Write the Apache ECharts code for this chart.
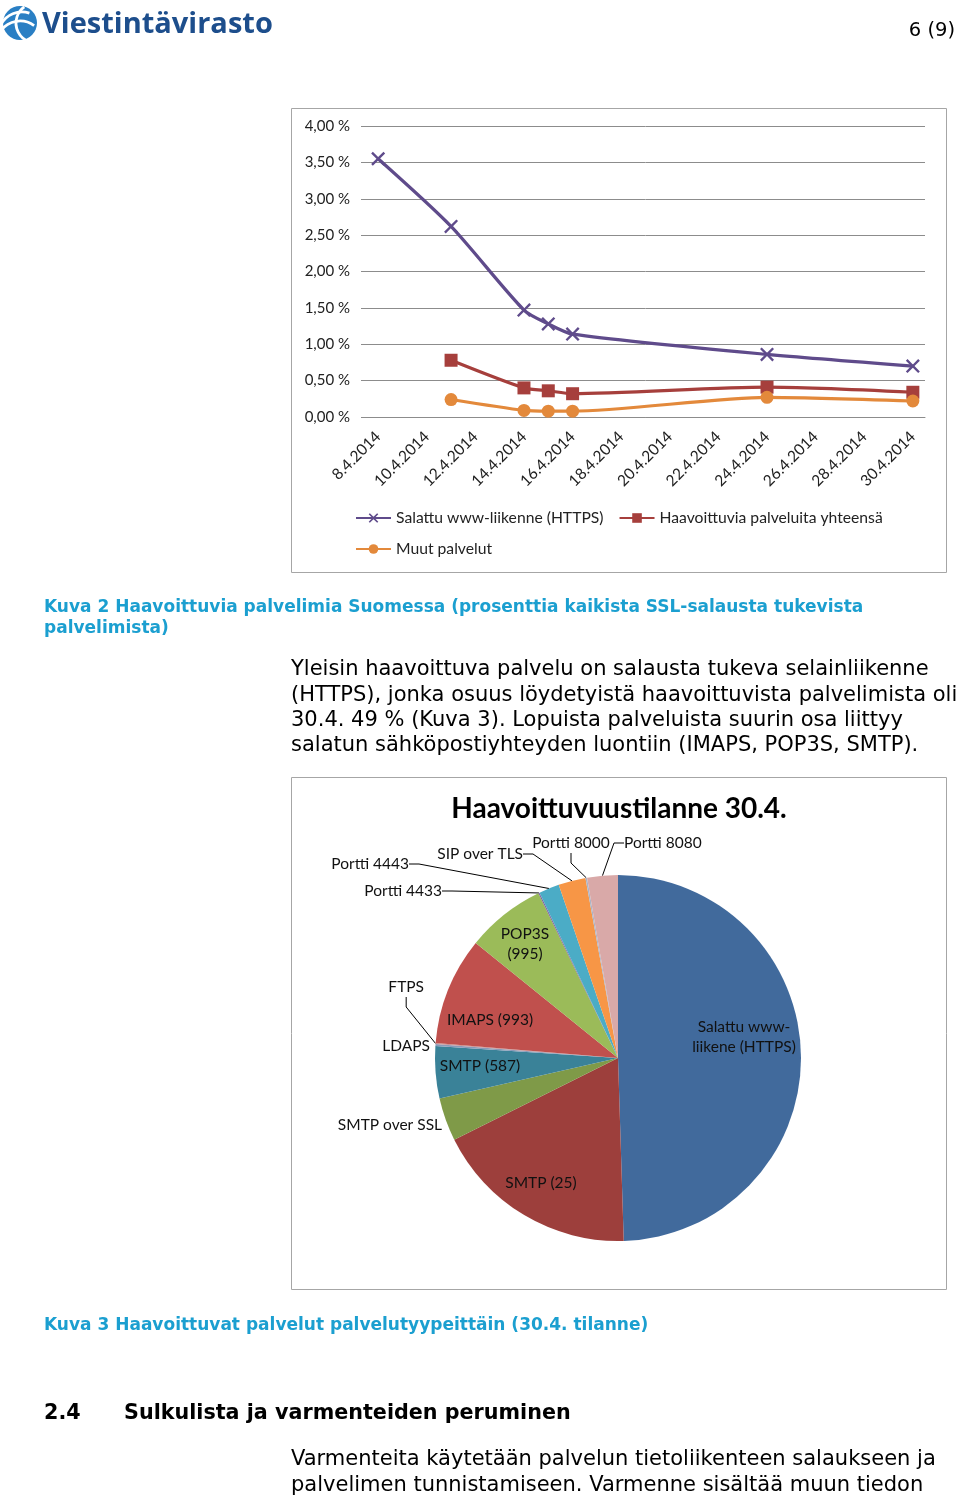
<!DOCTYPE html>
<html><head><meta charset="utf-8">
<script src="https://cdn.jsdelivr.net/npm/echarts@6/dist/echarts.min.js"></script>
<style>html,body{margin:0;padding:0;background:#fff}#c{width:960px;height:1498px}</style>
</head><body><div id="c"></div>
<script>
// ---- line chart data ----
const axisDays = ['8.4.2014','9.4.2014','10.4.2014','11.4.2014','12.4.2014','13.4.2014','14.4.2014','15.4.2014','16.4.2014','17.4.2014','18.4.2014','19.4.2014','20.4.2014','21.4.2014','22.4.2014','23.4.2014','24.4.2014','25.4.2014','26.4.2014','27.4.2014','28.4.2014','29.4.2014','30.4.2014'];
const measureDates = ['8.4.2014','11.4.2014','14.4.2014','15.4.2014','16.4.2014','24.4.2014','30.4.2014'];
const httpsPct = [3.55, 2.62, 1.47, 1.28, 1.14, 0.86, 0.70];
const totalPct = [null, 0.78, 0.40, 0.36, 0.32, 0.41, 0.34];
const otherPct = [null, 0.24, 0.09, 0.08, 0.08, 0.27, 0.22];
const seriesNames = ['Salattu www-liikenne (HTTPS)', 'Haavoittuvia palveluita yhteensä', 'Muut palvelut'];
const yTicks = [0, 0.5, 1, 1.5, 2, 2.5, 3, 3.5, 4];

// ---- pie data ----
const pieNames = ['Salattu www-liikene (HTTPS)', 'SMTP (25)', 'SMTP over SSL', 'SMTP (587)', 'LDAPS', 'FTPS', 'IMAPS (993)', 'POP3S (995)', 'Portti 4433', 'Portti 4443', 'SIP over TLS', 'Portti 8000', 'Portti 8080'];
const pieShares = [49.4, 18.1, 3.8, 4.6, 0.17, 0.08, 9.5, 7.0, 0.11, 1.8, 2.4, 0.14, 2.7];
const pieLabels = ['Salattu www-\nliikene (HTTPS)', 'SMTP (25)', 'SMTP over SSL', 'SMTP (587)', 'LDAPS', 'FTPS', 'IMAPS (993)', 'POP3S\n(995)', 'Portti 4433', 'Portti 4443', 'SIP over TLS', 'Portti 8000', 'Portti 8080'];

// ---- styles ----
const pieColors = ['#416a9c','#9d3f3c','#7f9a48','#3a8298','#8a9ab8','#c89090','#c0504d','#9bbb59','#8064a2','#4bacc6','#f79646','#aab4c8','#d9a9a8'];
const insideIdx = [0, 1, 3, 6, 7];
const labelPlace = {
  0: {x: 744, y: 1037, align: 'center'},
  1: {x: 541, y: 1183, align: 'center'},
  2: {x: 442, y: 1125, align: 'right'},
  3: {x: 480, y: 1066, align: 'center'},
  4: {x: 430, y: 1046, align: 'right'},
  5: {x: 424, y: 987, align: 'right'},
  6: {x: 490, y: 1020, align: 'center'},
  7: {x: 525, y: 944, align: 'center'},
  8: {x: 442, y: 891, align: 'right'},
  9: {x: 409, y: 864, align: 'right'},
  10: {x: 523, y: 854, align: 'right'},
  11: {x: 571, y: 843, align: 'center'},
  12: {x: 624, y: 843, align: 'left'}
};
const noLine = [2, 4];

const chartFont = 'Lato';
const docFont = '"DejaVu Sans"';
const capColor = '#1b9fd0';

function pair(dates, vals) {
  const out = [];
  dates.forEach((d, i) => { if (vals[i] != null) out.push([d, vals[i]]); });
  return out;
}

const xPath = 'path://M0,1.2L1.2,0L5,3.8L8.8,0L10,1.2L6.2,5L10,8.8L8.8,10L5,6.2L1.2,10L0,8.8L3.8,5Z';

const chart = echarts.init(document.getElementById('c'), null, {renderer: 'canvas', width: 960, height: 1498});

const option = {
  animation: false,
  backgroundColor: '#fff',
  textStyle: {fontFamily: chartFont},
  graphic: [
    // logo globe
    {type: 'circle', shape: {cx: 20, cy: 23, r: 17}, style: {fill: '#2a7fc4'}},
    {type: 'arc', shape: {cx: 22, cy: 36, r: 24, startAngle: Math.PI * 1.15, endAngle: Math.PI * 1.6}, style: {stroke: '#fff', lineWidth: 2.8, fill: 'none'}},
    {type: 'arc', shape: {cx: 20, cy: 45, r: 24, startAngle: Math.PI * 1.2, endAngle: Math.PI * 1.7}, style: {stroke: '#fff', lineWidth: 2.8, fill: 'none'}},
    {type: 'arc', shape: {cx: 36, cy: 23, r: 20, startAngle: Math.PI * 0.6, endAngle: Math.PI * 1.3}, style: {stroke: '#fff', lineWidth: 2.8, fill: 'none'}},
    {type: 'text', style: {text: 'Viestintävirasto', x: 42, y: 25, fill: '#1d4e8c', font: 'bold 29px "Open Sans"', textVerticalAlign: 'middle'}},
    {type: 'text', style: {text: '6 (9)', x: 955, y: 31, fill: '#000', font: '19.5px ' + docFont, textAlign: 'right', textVerticalAlign: 'middle'}},
    // chart frames
    {type: 'rect', shape: {x: 291.5, y: 108.5, width: 655, height: 464}, style: {fill: 'none', stroke: '#a6a6a6', lineWidth: 1}},
    {type: 'rect', shape: {x: 291.5, y: 777.5, width: 655, height: 512}, style: {fill: 'none', stroke: '#a6a6a6', lineWidth: 1}},
    // captions & text
    {type: 'text', style: {text: 'Kuva 2 Haavoittuvia palvelimia Suomessa (prosenttia kaikista SSL-salausta tukevista\npalvelimista)', x: 44, y: 597, fill: capColor, font: 'bold 17px ' + docFont, lineHeight: 21}},
    {type: 'text', style: {text: 'Yleisin haavoittuva palvelu on salausta tukeva selainliikenne\n(HTTPS), jonka osuus löydetyistä haavoittuvista palvelimista oli\n30.4. 49 % (Kuva 3). Lopuista palveluista suurin osa liittyy\nsalatun sähköpostiyhteyden luontiin (IMAPS, POP3S, SMTP).', x: 291, y: 657, fill: '#000', font: '21px ' + docFont, lineHeight: 25.4}},
    {type: 'text', style: {text: 'Haavoittuvuustilanne 30.4.', x: 619, y: 809, fill: '#000', font: 'bold 28px ' + chartFont, textAlign: 'center', textVerticalAlign: 'middle'}},
    {type: 'text', style: {text: 'Kuva 3 Haavoittuvat palvelut palvelutyypeittäin (30.4. tilanne)', x: 44, y: 1326, fill: capColor, font: 'bold 17px ' + docFont, textVerticalAlign: 'middle'}},
    {type: 'text', style: {text: '2.4', x: 44, y: 1414, fill: '#000', font: 'bold 20.7px ' + docFont, textVerticalAlign: 'middle'}},
    {type: 'text', style: {text: 'Sulkulista ja varmenteiden peruminen', x: 124, y: 1414, fill: '#000', font: 'bold 20.7px ' + docFont, textVerticalAlign: 'middle'}},
    {type: 'text', style: {text: 'Varmenteita käytetään palvelun tietoliikenteen salaukseen ja\npalvelimen tunnistamiseen. Varmenne sisältää muun tiedon', x: 291, y: 1447, fill: '#000', font: '21px ' + docFont, lineHeight: 25.4}}
  ],
  legend: {
    left: 350, top: 505, width: 600,
    itemWidth: 35, itemHeight: 12, itemGap: 15,
    textStyle: {fontFamily: chartFont, fontSize: 15.7, color: '#222'},
    data: seriesNames
  },
  grid: {left: 366, top: 126, width: 559, height: 291, containLabel: false},
  xAxis: {
    type: 'category', data: axisDays, boundaryGap: true,
    axisLine: {lineStyle: {color: '#8c8c8c'}},
    axisTick: {interval: 1, length: 5, lineStyle: {color: '#8c8c8c'}},
    axisLabel: {interval: 1, rotate: 45, margin: 17, fontFamily: chartFont, fontSize: 15.5, color: '#222'}
  },
  yAxis: {
    type: 'value', min: yTicks[0], max: yTicks[yTicks.length - 1], interval: yTicks[1] - yTicks[0],
    axisLine: {show: false},
    axisTick: {show: true, length: 5, lineStyle: {color: '#8c8c8c'}},
    splitLine: {lineStyle: {color: '#8c8c8c'}},
    axisLabel: {margin: 16, fontFamily: chartFont, fontSize: 15, color: '#222', formatter: v => v.toFixed(2).replace('.', ',') + ' %'}
  },
  series: [
    {name: seriesNames[0], type: 'line', data: pair(measureDates, httpsPct), smooth: 0.25,
     symbol: xPath, symbolSize: 14, lineStyle: {width: 3.2, color: '#5f4b8b'}, itemStyle: {color: '#5f4b8b'}},
    {name: seriesNames[1], type: 'line', data: pair(measureDates, totalPct), smooth: 0.25,
     symbol: 'rect', symbolSize: 13, lineStyle: {width: 3.2, color: '#a63f3c'}, itemStyle: {color: '#a63f3c'}},
    {name: seriesNames[2], type: 'line', data: pair(measureDates, otherPct), smooth: 0.25,
     symbol: 'circle', symbolSize: 13, lineStyle: {width: 3.2, color: '#e3893b'}, itemStyle: {color: '#e3893b'}},
    {
      type: 'pie', center: [618, 1058], radius: 183, startAngle: 90, clockwise: true,
      avoidLabelOverlap: false, legendHoverLink: false,
      itemStyle: {borderWidth: 0},
      data: pieNames.map((n, i) => ({
        name: n, value: pieShares[i],
        itemStyle: {color: pieColors[i]},
        label: {position: insideIdx.includes(i) ? 'inside' : 'outside'},
        labelLine: {show: !insideIdx.includes(i) && !noLine.includes(i), lineStyle: {color: '#000', width: 1}}
      })),
      label: {
        formatter: p => pieLabels[p.dataIndex],
        fontFamily: chartFont, fontSize: 15.5, color: '#111', lineHeight: 20
      },
      labelLine: {length: 10, length2: 10, smooth: false},
      labelLayout: p => {
        const lp = labelPlace[p.dataIndex];
        return {x: lp.x, y: lp.y, align: lp.align, verticalAlign: 'middle', hideOverlap: false};
      }
    }
  ]
};
chart.setOption(option);
</script></body></html>
